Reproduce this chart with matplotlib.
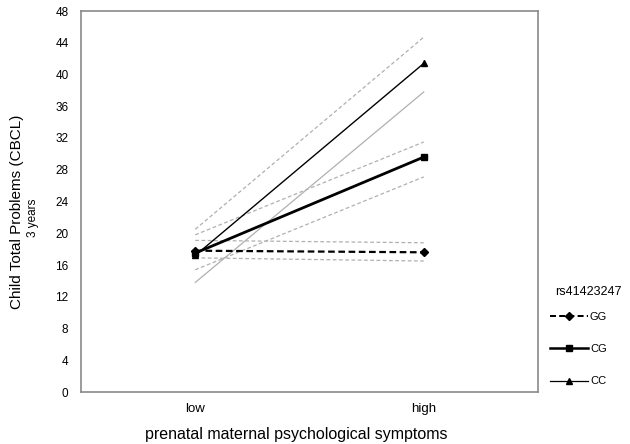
import matplotlib
matplotlib.use('Agg')
import matplotlib.pyplot as plt
from matplotlib.lines import Line2D

plt.rcParams['font.family'] = ['Liberation Sans', 'DejaVu Sans']

# data
categories = ['low', 'high']
genotypes = ['GG', 'CG', 'CC']
means = {
    'GG': [17.8, 17.6],
    'CG': [17.5, 29.6],
    'CC': [17.2, 41.4],
}
upper = {
    'GG': [19.1, 18.8],
    'CG': [19.8, 31.5],
    'CC': [20.5, 44.7],
}
lower = {
    'GG': [16.9, 16.5],
    'CG': [15.4, 27.1],
    'CC': [13.8, 37.8],
}
y_ticks = list(range(0, 49, 4))

styles = {
    'GG': dict(ls=(0, (3, 1.6)), lw=1.6, marker='D', ms=4),
    'CG': dict(ls='-', lw=2.0, marker='s', ms=5),
    'CC': dict(ls='-', lw=1.0, marker='^', ms=5),
}

fig = plt.figure(figsize=(6.3, 4.44), dpi=100)
ax = fig.add_axes([81 / 630, 1 - 392 / 444, 457 / 630, 381 / 444])

x = list(range(len(categories)))
for g in genotypes:
    # confidence bands
    band_ls_lo = '-' if g == 'CC' else (0, (3, 2))
    ax.plot(x, upper[g], color='#b0b0b0', lw=0.9, ls=(0, (3, 2)))
    ax.plot(x, lower[g], color='#b0b0b0', lw=0.9, ls=band_ls_lo)

for g in genotypes:
    s = styles[g]
    ax.plot(x, means[g], color='black', ls=s['ls'], lw=s['lw'],
            marker=s['marker'], ms=s['ms'], label=g, zorder=3)

ax.set_xlim(-0.5, 1.5)
ax.set_ylim(0, 48)
ax.set_yticks(y_ticks)
ax.set_xticks(x)
ax.set_xticklabels(categories)
ax.tick_params(axis='y', length=0, labelsize=8.5, pad=9)
ax.tick_params(axis='x', length=0, labelsize=9.5, pad=8)
for sp in ax.spines.values():
    sp.set_color('#8a8a8a')
    sp.set_linewidth(1.2)

fig.text(296 / 630, 1 - 434 / 444, 'prenatal maternal psychological symptoms',
         ha='center', va='center', fontsize=11.5)
fig.text(17 / 630, 1 - 212 / 444, 'Child Total Problems (CBCL)', rotation=90,
         ha='center', va='center', fontsize=11)
fig.text(33 / 630, 1 - 218 / 444, '3 years', rotation=90,
         ha='center', va='center', fontsize=8.5)

fig.text(555 / 630, 1 - 292 / 444, 'rs41423247', ha='left', va='center',
         fontsize=9)
handles = []
for g in genotypes:
    s = styles[g]
    handles.append(Line2D([], [], color='black', ls=s['ls'], lw=s['lw'] * 0.9,
                          marker=s['marker'], ms=s['ms'] * 0.9))
leg = fig.legend(handles, genotypes, loc='upper left',
                 bbox_to_anchor=(540 / 630, 1 - 302 / 444), frameon=False,
                 fontsize=8, handlelength=3.4, labelspacing=2.0,
                 handletextpad=0.2)

fig.savefig('out.png', dpi=100)
